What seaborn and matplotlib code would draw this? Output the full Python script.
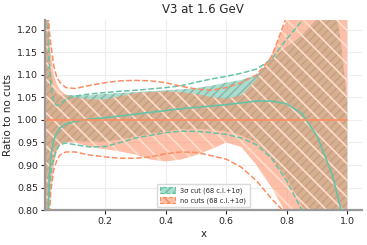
import numpy as np
import seaborn as sns
import matplotlib.pyplot as plt
from matplotlib.patches import Patch

xs = [0.001, 0.005, 0.01, 0.015, 0.02, 0.03, 0.04, 0.05, 0.07, 0.1, 0.15, 0.2,
      0.25, 0.3, 0.35, 0.4, 0.45, 0.5, 0.55, 0.6, 0.65, 0.7, 0.75, 0.8, 0.85,
      0.9, 0.95, 0.98, 1.0]

# 3 sigma cut fit (ratio to no cuts)
cut_central = [0.3, 0.5, 0.76, 0.87, 0.92, 0.955, 0.972, 0.982, 0.991, 0.997, 1.002, 1.005,
               1.009, 1.013, 1.017, 1.021, 1.025, 1.028, 1.031, 1.034, 1.038, 1.042, 1.042, 1.036, 1.014,
               0.965, 0.88, 0.80, 0.72]
cut_band_hi = [1.5, 1.4, 1.25, 1.16, 1.11, 1.07, 1.058, 1.055, 1.056, 1.055, 1.055, 1.058,
               1.06, 1.062, 1.064, 1.066, 1.068, 1.071, 1.076, 1.083, 1.089, 1.10, 1.135, 1.162, 1.188,
               1.225, 1.3, 1.17, 1.04]
cut_band_lo = [0.4, 0.6, 0.78, 0.86, 0.89, 0.915, 0.935, 0.947, 0.952, 0.953, 0.952, 0.952,
               0.957, 0.963, 0.969, 0.975, 0.979, 0.98, 0.979, 0.975, 0.966, 0.95, 0.915, 0.872, 0.81,
               0.74, 0.7, 0.7, 0.7]
cut_sig_hi = [1.6, 1.4, 1.25, 1.13, 1.08, 1.04, 1.032, 1.035, 1.046, 1.053, 1.058, 1.061,
              1.064, 1.066, 1.069, 1.072, 1.076, 1.084, 1.091, 1.097, 1.104, 1.113, 1.135, 1.18, 1.22,
              1.28, 1.35, 1.4, 1.4]
cut_sig_lo = [0.3, 0.5, 0.75, 0.83, 0.88, 0.915, 0.935, 0.945, 0.949, 0.945, 0.94, 0.941,
              0.95, 0.96, 0.966, 0.972, 0.975, 0.975, 0.972, 0.968, 0.96, 0.945, 0.915, 0.865, 0.80,
              0.74, 0.7, 0.7, 0.7]

# no cuts fit (reference, central = 1)
nocut_central = [1.0] * len(xs)
nocut_band_hi = [1.6, 1.5, 1.3, 1.2, 1.15, 1.1, 1.08, 1.068, 1.056, 1.05, 1.046, 1.046,
                 1.053, 1.06, 1.062, 1.064, 1.062, 1.058, 1.051, 1.047, 1.055, 1.09, 1.145, 1.222, 1.3,
                 1.4, 1.5, 1.5, 1.5]
nocut_band_lo = [0.3, 0.5, 0.7, 0.78, 0.84, 0.9, 0.93, 0.945, 0.951, 0.95, 0.94, 0.935,
                 0.93, 0.923, 0.912, 0.908, 0.912, 0.922, 0.935, 0.95, 0.94, 0.9, 0.85, 0.79, 0.7,
                 0.6, 0.5, 0.5, 0.5]
nocut_sig_hi = [1.8, 1.6, 1.3, 1.2, 1.17, 1.12, 1.095, 1.084, 1.072, 1.07, 1.077, 1.083,
                1.087, 1.088, 1.087, 1.083, 1.075, 1.069, 1.066, 1.072, 1.083, 1.10, 1.14, 1.23, 1.32,
                1.4, 1.5, 1.5, 1.5]
nocut_sig_lo = [0.3, 0.5, 0.68, 0.78, 0.84, 0.89, 0.91, 0.922, 0.929, 0.929, 0.922, 0.918,
                0.915, 0.915, 0.918, 0.925, 0.929, 0.928, 0.921, 0.913, 0.895, 0.865, 0.825, 0.79, 0.7,
                0.6, 0.5, 0.5, 0.5]

green = '#66c2a5'
orange = '#fc8d62'
green_fill = (0.40, 0.76, 0.65, 0.55)
orange_fill = (0.99, 0.55, 0.38, 0.55)

sns.set_style("whitegrid")
plt.rcParams.update({
    'grid.color': '0.93',
    'axes.edgecolor': '0.6',
    'xtick.bottom': True,
    'ytick.left': True,
    'xtick.major.size': 3,
    'ytick.major.size': 3,
    'xtick.color': '0.15',
    'ytick.color': '0.15',
    'hatch.linewidth': 1.2,
})

fig = plt.figure(figsize=(3.67, 2.45), dpi=100)
ax = fig.add_axes([0.1226, 0.141, 0.863, 0.777])

# bands (68 c.l.)
ax.fill_between(xs, cut_band_lo, cut_band_hi, facecolor=green_fill,
                edgecolor=(0.30, 0.40, 0.36, 0.30), hatch='////', lw=0, zorder=1)
ax.fill_between(xs, nocut_band_lo, nocut_band_hi, facecolor=orange_fill,
                edgecolor=(1.0, 0.87, 0.80, 1.0), hatch='\\\\', lw=0, zorder=2)

# central values
sns.lineplot(x=xs, y=cut_central, color=green, lw=1.2, ax=ax, zorder=3)
sns.lineplot(x=xs, y=nocut_central, color=orange, lw=1.2, ax=ax, zorder=3)

# 1 sigma dashed
for ys in (cut_sig_hi, cut_sig_lo):
    sns.lineplot(x=xs, y=ys, color=green, lw=1.1, linestyle='--', ax=ax, zorder=4)
for ys in (nocut_sig_hi, nocut_sig_lo):
    sns.lineplot(x=xs, y=ys, color=orange, lw=1.1, linestyle='--', ax=ax, zorder=4)

ax.set_xlim(0.001, 1.048)
ax.set_ylim(0.799, 1.222)
ax.set_xticks([0.2, 0.4, 0.6, 0.8, 1.0])
ax.set_yticks([0.8, 0.85, 0.9, 0.95, 1.0, 1.05, 1.1, 1.15, 1.2])
ax.set_yticklabels(['0.80', '0.85', '0.90', '0.95', '1.00', '1.05', '1.10', '1.15', '1.20'])
ax.tick_params(labelsize=6.8, pad=2)
ax.set_xlabel('x', fontsize=7.5, labelpad=2)
ax.set_ylabel('Ratio to no cuts', fontsize=7.5, labelpad=3)
ax.set_title('V3 at 1.6 GeV', fontsize=8.5, pad=5)
sns.despine(ax=ax)
ax.spines['bottom'].set_linewidth(1.6)
ax.spines['left'].set_linewidth(1.6)

handles = [
    Patch(facecolor=green_fill, edgecolor=green, hatch='////', linestyle='--', lw=0.8),
    Patch(facecolor=orange_fill, edgecolor=orange, hatch='\\\\', linestyle='--', lw=0.8),
]
labels = ['3σ cut (68 c.l.+1σ)', 'no cuts (68 c.l.+1σ)']
ax.legend(handles, labels, loc='lower center', fontsize=4.8, frameon=True,
          handlelength=2.2, handleheight=1.0, borderpad=0.5, labelspacing=0.5,
          fancybox=False, edgecolor='0.85', framealpha=1)

plt.savefig('out.png', dpi=100)
